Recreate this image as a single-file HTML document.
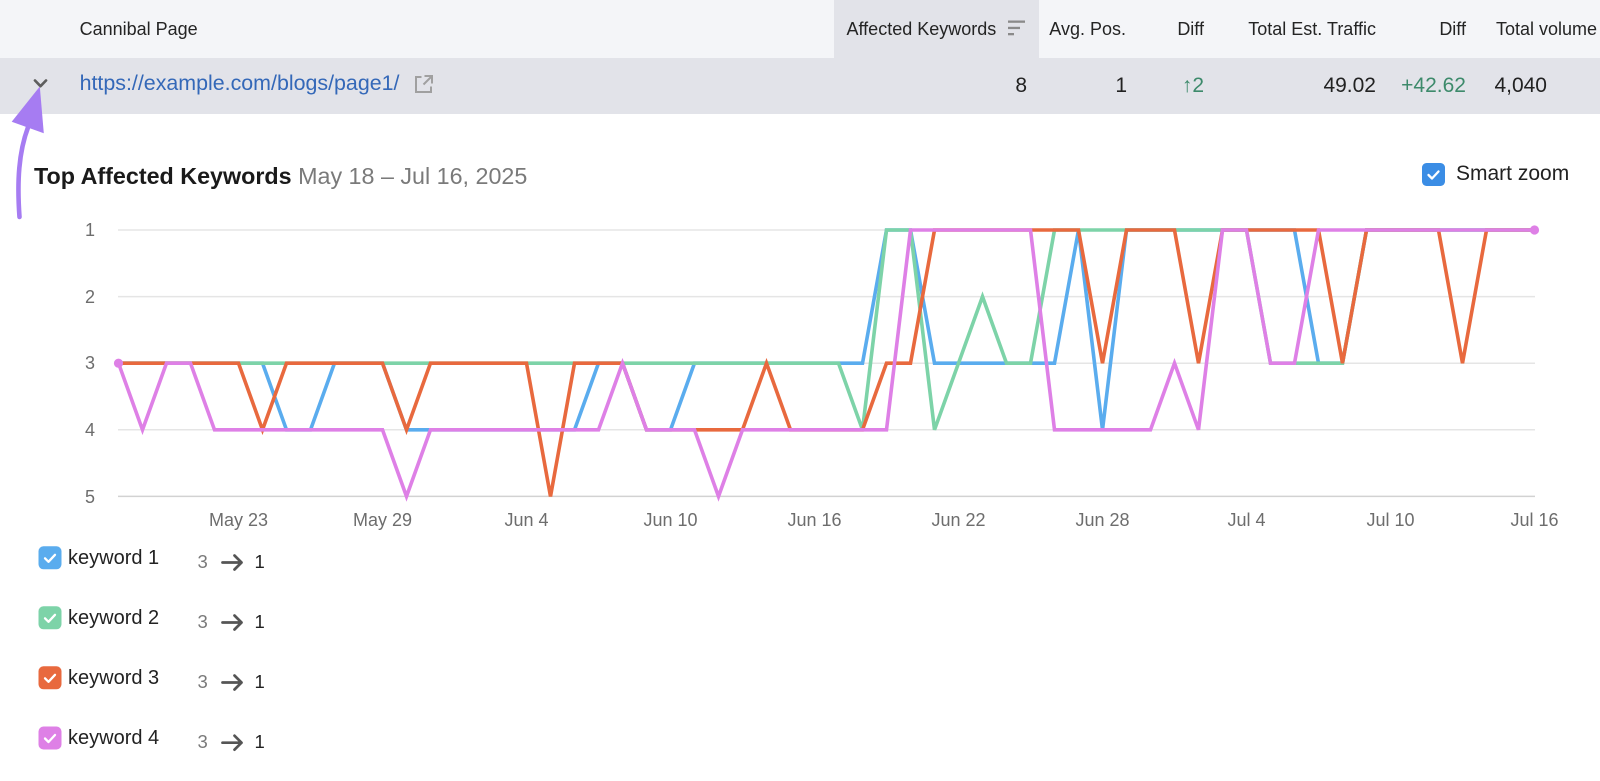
<!DOCTYPE html>
<html>
<head>
<meta charset="utf-8">
<style>
  html, body { margin:0; padding:0; }
  body { width:1600px; height:781px; overflow:hidden; background:#ffffff; position:relative;
         font-family:"Liberation Sans", Arial, sans-serif; }
  .t { position:absolute; white-space:nowrap; line-height:1; }
  .hd { font-size:18px; color:#242424; top:19.8px; }
  .rw { font-size:21px; color:#222; top:74.5px; }
  .yl { font-size:18px; color:#6d6d6d; right:1505px; text-align:right; }
  .xl { font-size:18px; color:#6d6d6d; width:100px; text-align:center; top:511px; }
  .kw { font-size:20px; color:#222; left:68px; }
  .from { font-size:18.5px; color:#7a7a7a; left:197.5px; }
  .to { font-size:18.5px; color:#222; left:254.5px; }
</style>
</head>
<body>
<!-- header + row backgrounds -->
<div style="position:absolute;left:0;top:0;width:1600px;height:57.5px;background:#F4F5F8;"></div>
<div style="position:absolute;left:834px;top:0;width:205px;height:57.5px;background:#E2E3E9;"></div>
<div style="position:absolute;left:0;top:57.5px;width:1600px;height:56px;background:#E2E3E9;"></div>

<svg width="1600" height="781" style="position:absolute;left:0;top:0;" xmlns="http://www.w3.org/2000/svg">
  <!-- sort icon -->
  <rect x="1008" y="20.5" width="17" height="2.3" fill="#8a8a8a"/>
  <rect x="1008" y="26.8" width="12" height="2.3" fill="#8a8a8a"/>
  <rect x="1008" y="33" width="6" height="2.3" fill="#8a8a8a"/>
  <!-- chevron -->
  <polyline points="35,80.5 40.5,86.2 46,80.5" fill="none" stroke="#5e5e5e" stroke-width="2.7" stroke-linecap="round" stroke-linejoin="round"/>
  <!-- external link icon -->
  <path d="M421.5 77 H416 V92 H431 V86.5" fill="none" stroke="#a0a0a0" stroke-width="2"/>
  <path d="M424.5 76 H432 V83.5 M432 76 L423.5 84.5" fill="none" stroke="#a0a0a0" stroke-width="2"/>
  <!-- purple annotation arrow -->
  <path d="M19.5 217 C 17 182, 18.5 152, 28.5 126" fill="none" stroke="#A67CF2" stroke-width="4.6" stroke-linecap="round"/>
  <polygon points="39.8,86.5 11.7,121.7 43.8,133.3" fill="#A67CF2"/>
  <!-- smart zoom checkbox -->
  <rect x="1422" y="163" width="23" height="23" rx="4.5" fill="#3B8DE5"/>
  <polyline points="1428.5,175 1432,178.5 1438.5,171.5" fill="none" stroke="#fff" stroke-width="2.3" stroke-linecap="round" stroke-linejoin="round"/>

  <!-- gridlines -->
  <g stroke="#E5E5E5" stroke-width="1.5">
    <line x1="118" y1="230" x2="1535" y2="230"/>
    <line x1="118" y1="296.6" x2="1535" y2="296.6"/>
    <line x1="118" y1="363.2" x2="1535" y2="363.2"/>
    <line x1="118" y1="429.8" x2="1535" y2="429.8"/>
  </g>
  <line x1="118" y1="496.4" x2="1535" y2="496.4" stroke="#D2D2D2" stroke-width="1.5"/>

  <!-- series -->
  <g fill="none" stroke-width="3.6" stroke-linejoin="miter" stroke-miterlimit="4">
    <polyline stroke="#5AACEE" points="118.5,363.2 262.5,363.2 286.5,429.8 310.5,429.8 334.5,363.2 382.5,363.2 406.5,429.8 574.5,429.8 598.5,363.2 622.5,363.2 646.5,429.8 670.5,429.8 694.5,363.2 862.5,363.2 886.5,230 910.5,230 934.5,363.2 1054.5,363.2 1078.5,230 1102.5,429.8 1126.5,230 1294.5,230 1318.5,363.2 1342.5,363.2 1366.5,230 1534.5,230"/>
    <polyline stroke="#7DD3A8" points="118.5,363.2 838.5,363.2 862.5,429.8 886.5,230 910.5,230 934.5,429.8 958.5,363.2 982.5,296.6 1006.5,363.2 1030.5,363.2 1054.5,230 1246.5,230 1270.5,363.2 1342.5,363.2 1366.5,230 1534.5,230"/>
    <polyline stroke="#E8693E" points="118.5,363.2 238.5,363.2 262.5,429.8 286.5,363.2 382.5,363.2 406.5,429.8 430.5,363.2 526.5,363.2 550.5,496.4 574.5,363.2 622.5,363.2 646.5,429.8 742.5,429.8 766.5,363.2 790.5,429.8 862.5,429.8 886.5,363.2 910.5,363.2 934.5,230 1078.5,230 1102.5,363.2 1126.5,230 1174.5,230 1198.5,363.2 1222.5,230 1318.5,230 1342.5,363.2 1366.5,230 1438.5,230 1462.5,363.2 1486.5,230 1534.5,230"/>
    <polyline stroke="#DE80E6" points="118.5,363.2 142.5,429.8 166.5,363.2 190.5,363.2 214.5,429.8 382.5,429.8 406.5,496.4 430.5,429.8 598.5,429.8 622.5,363.2 646.5,429.8 694.5,429.8 718.5,496.4 742.5,429.8 886.5,429.8 910.5,230 1030.5,230 1054.5,429.8 1150.5,429.8 1174.5,363.2 1198.5,429.8 1222.5,230 1246.5,230 1270.5,363.2 1294.5,363.2 1318.5,230 1534.5,230"/>
  </g>
  <circle cx="118.5" cy="363.2" r="4.6" fill="#DE80E6"/>
  <circle cx="1534.5" cy="230" r="4.6" fill="#DE80E6"/>

  <!-- legend checkboxes -->
  <g>
    <rect x="38.5" y="546.3" width="23" height="23" rx="5" fill="#5AACEE"/>
    <rect x="38.5" y="606.3" width="23" height="23" rx="5" fill="#7DD3A8"/>
    <rect x="38.5" y="666.3" width="23" height="23" rx="5" fill="#E8693E"/>
    <rect x="38.5" y="726.5" width="23" height="23" rx="5" fill="#DE80E6"/>
  </g>
  <g fill="none" stroke="#fff" stroke-width="2.3" stroke-linecap="round" stroke-linejoin="round">
    <polyline points="45,558.3 48.5,561.8 55,554.8"/>
    <polyline points="45,618.3 48.5,621.8 55,614.8"/>
    <polyline points="45,678.3 48.5,681.8 55,674.8"/>
    <polyline points="45,738.5 48.5,742 55,735"/>
  </g>
  <!-- legend arrows -->
  <g fill="none" stroke="#555" stroke-width="2.7" stroke-linecap="round" stroke-linejoin="round">
    <path d="M222.5 562.5 H241.5 M234.5 555.5 L241.5 562.5 L234.5 569.5"/>
    <path d="M222.5 622.5 H241.5 M234.5 615.5 L241.5 622.5 L234.5 629.5"/>
    <path d="M222.5 682.5 H241.5 M234.5 675.5 L241.5 682.5 L234.5 689.5"/>
    <path d="M222.5 742.7 H241.5 M234.5 735.7 L241.5 742.7 L234.5 749.7"/>
  </g>
</svg>

<!-- header text -->
<div class="t hd" style="left:79.6px;">Cannibal Page</div>
<div class="t hd" style="left:846.5px;">Affected Keywords</div>
<div class="t hd" style="right:474px;">Avg. Pos.</div>
<div class="t hd" style="right:396px;">Diff</div>
<div class="t hd" style="right:224px;">Total Est. Traffic</div>
<div class="t hd" style="right:134px;">Diff</div>
<div class="t hd" style="right:3px;">Total volume</div>

<!-- row text -->
<div class="t rw" style="left:79.6px;top:73.3px;font-size:21.4px;color:#3468B8;">https://example.com/blogs/page1/</div>
<div class="t rw" style="right:573px;">8</div>
<div class="t rw" style="right:473px;">1</div>
<div class="t rw" style="right:396px;color:#3D8A6B;">↑2</div>
<div class="t rw" style="right:224px;">49.02</div>
<div class="t rw" style="right:134px;color:#3D8A6B;">+42.62</div>
<div class="t rw" style="right:53px;">4,040</div>

<!-- title -->
<div class="t" style="left:34px;top:164.8px;font-size:23.3px;color:#1a1a1a;"><b>Top Affected Keywords</b> <span style="color:#7a7a7a;">May 18 – Jul 16, 2025</span></div>
<div class="t" style="left:1456px;top:163px;font-size:21px;color:#222;">Smart zoom</div>

<!-- y labels -->
<div class="t yl" style="top:221.2px;">1</div>
<div class="t yl" style="top:287.8px;">2</div>
<div class="t yl" style="top:354.4px;">3</div>
<div class="t yl" style="top:421px;">4</div>
<div class="t yl" style="top:487.6px;">5</div>

<!-- x labels -->
<div class="t xl" style="left:188.5px;">May 23</div>
<div class="t xl" style="left:332.5px;">May 29</div>
<div class="t xl" style="left:476.5px;">Jun 4</div>
<div class="t xl" style="left:620.5px;">Jun 10</div>
<div class="t xl" style="left:764.5px;">Jun 16</div>
<div class="t xl" style="left:908.5px;">Jun 22</div>
<div class="t xl" style="left:1052.5px;">Jun 28</div>
<div class="t xl" style="left:1196.5px;">Jul 4</div>
<div class="t xl" style="left:1340.5px;">Jul 10</div>
<div class="t xl" style="left:1484.5px;">Jul 16</div>

<!-- legend text -->
<div class="t kw" style="top:547.5px;">keyword 1</div>
<div class="t from" style="top:553px;">3</div>
<div class="t to" style="top:553px;">1</div>

<div class="t kw" style="top:607.5px;">keyword 2</div>
<div class="t from" style="top:613px;">3</div>
<div class="t to" style="top:613px;">1</div>

<div class="t kw" style="top:667.5px;">keyword 3</div>
<div class="t from" style="top:673px;">3</div>
<div class="t to" style="top:673px;">1</div>

<div class="t kw" style="top:727.7px;">keyword 4</div>
<div class="t from" style="top:733.2px;">3</div>
<div class="t to" style="top:733.2px;">1</div>
</body>
</html>
